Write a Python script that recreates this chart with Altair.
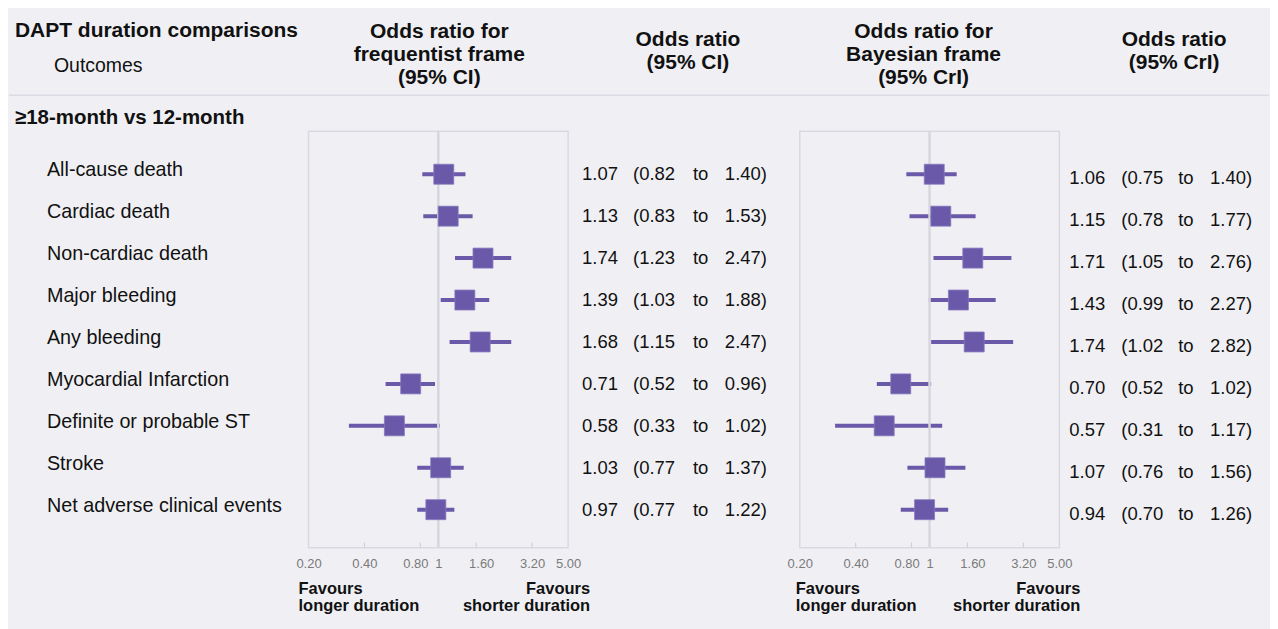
import altair as alt
import pandas as pd

# ---------------- data ----------------
outcomes = [
    "All-cause death", "Cardiac death", "Non-cardiac death", "Major bleeding",
    "Any bleeding", "Myocardial Infarction", "Definite or probable ST",
    "Stroke", "Net adverse clinical events",
]
freq_or = [1.07, 1.13, 1.74, 1.39, 1.68, 0.71, 0.58, 1.03, 0.97]
freq_lo = [0.82, 0.83, 1.23, 1.03, 1.15, 0.52, 0.33, 0.77, 0.77]
freq_hi = [1.40, 1.53, 2.47, 1.88, 2.47, 0.96, 1.02, 1.37, 1.22]
bayes_or = [1.06, 1.15, 1.71, 1.43, 1.74, 0.70, 0.57, 1.07, 0.94]
bayes_lo = [0.75, 0.78, 1.05, 0.99, 1.02, 0.52, 0.31, 0.76, 0.70]
bayes_hi = [1.40, 1.77, 2.76, 2.27, 2.82, 1.02, 1.17, 1.56, 1.26]
tick_values = [0.2, 0.4, 0.8, 1, 1.6, 3.2, 5]
inner_ticks = [0.4, 0.8, 1.6, 3.2]

df = pd.DataFrame({
    "row": list(range(len(outcomes))),
    "outcome": outcomes,
    "f_or": freq_or, "f_lo": freq_lo, "f_hi": freq_hi,
    "b_or": bayes_or, "b_lo": bayes_lo, "b_hi": bayes_hi,
})
ticks_df = pd.DataFrame({"t": inner_ticks})
one = pd.DataFrame({"k": [0]})

# ---------------- style ----------------
FONT = "Liberation Sans"
PURPLE = "#6a58a8"
BG = "#f0f0f4"
FRAME = "#d9d9e1"
W, H = 1262, 540
PANEL_TOP = 123

ys = alt.Scale(domain=[-0.5, 8.5], range=[145, 523])
Y = alt.Y("row:Q", scale=ys, axis=None)


def xscale(rng):
    return alt.Scale(type="log", domain=[0.2, 5], range=rng)


def forest(pre, rng):
    xs = xscale(rng)
    axis = alt.Axis(
        values=tick_values, orient="bottom",
        labelExpr="datum.value == 1 ? '1' : format(datum.value, '.2f')",
        domain=False, ticks=False, grid=False,
        labelFont=FONT, labelFontSize=13, labelColor="#7a7a7a",
        labelPadding=10, labelOverlap=False, labelFlush=False,
        labelOffset={
            "condition": [
                {"test": "datum.value == 0.8", "value": -5},
                {"test": "datum.value == 1.6", "value": 5},
            ],
            "value": 0,
        },
    )
    frame = alt.Chart(one).mark_rect(
        fillOpacity=0, stroke=FRAME, strokeWidth=1.5
    ).encode(
        x=alt.XDatum(0.2, scale=xs, axis=None),
        x2=alt.X2Datum(5),
        y=alt.value(PANEL_TOP), y2=alt.value(H),
    )
    tks = alt.Chart(ticks_df).mark_rule(color="#cfcfd8", strokeWidth=1.2).encode(
        x=alt.X("t:Q", scale=xs, axis=None),
        y=alt.value(H - 5), y2=alt.value(H),
    )
    ci = alt.Chart(df).mark_rule(color=PURPLE, strokeWidth=4).encode(
        x=alt.X(f"{pre}_lo:Q", scale=xs, axis=axis, title=None),
        x2=f"{pre}_hi:Q",
        y=Y,
    )
    ref = alt.Chart(one).mark_rule(color="#d6d6de", strokeWidth=2.5).encode(
        x=alt.XDatum(1, scale=xs, axis=None),
        y=alt.value(PANEL_TOP), y2=alt.value(H),
    )
    sq = alt.Chart(df).mark_square(
        size=400, color=PURPLE, opacity=1, stroke="#8678bf", strokeWidth=0.8
    ).encode(
        x=alt.X(f"{pre}_or:Q", scale=xs, axis=None),
        y=Y,
    )
    return [frame, tks, ci, ref, sq]


def values_cols(pre, xs4, dy):
    common = dict(align="left", baseline="middle", font=FONT, fontSize=18.5,
                  color="#111111", dy=dy)
    a = alt.Chart(df).mark_text(**common).encode(
        x=alt.value(xs4[0]), y=Y, text=alt.Text(f"{pre}_or:Q", format=".2f"))
    b = alt.Chart(df).transform_calculate(
        t=f"'(' + format(datum.{pre}_lo, '.2f')"
    ).mark_text(**common).encode(x=alt.value(xs4[1]), y=Y, text="t:N")
    c = alt.Chart(df).mark_text(**common).encode(
        x=alt.value(xs4[2]), y=Y, text=alt.value("to"))
    d = alt.Chart(df).transform_calculate(
        t=f"format(datum.{pre}_hi, '.2f') + ')'"
    ).mark_text(**common).encode(x=alt.value(xs4[3]), y=Y, text="t:N")
    return [a, b, c, d]


def label(text, x, y, size=21, weight="bold", align="left", lh=23, color="#111111"):
    return alt.Chart(one).mark_text(
        align=align, baseline="middle", font=FONT, fontSize=size,
        fontWeight=weight, lineHeight=lh, color=color,
    ).encode(x=alt.value(x), y=alt.value(y), text=alt.value(text))


outcome_labels = alt.Chart(df).mark_text(
    align="left", baseline="middle", font=FONT, fontSize=19.8, color="#111111", dy=-4
).encode(x=alt.value(38), y=Y, text="outcome:N")

sep = alt.Chart(one).mark_rule(color="#dadae2", strokeWidth=1.5).encode(
    x=alt.value(0), x2=alt.value(W), y=alt.value(87))

layers = []
layers += forest("f", [300, 560])
layers += forest("b", [792, 1052])
layers += values_cols("f", [574, 625, 685, 717], 0)
layers += values_cols("b", [1062, 1114, 1171, 1203], 4)
layers += [
    outcome_labels, sep,
    label("DAPT duration comparisons", 6, 23, size=21),
    label("Outcomes", 45, 58, size=19.5, weight="normal"),
    label("≥18-month vs 12-month", 6, 110, size=20.5),
    label(["Odds ratio for", "frequentist frame", "(95% CI)"], 431, 24, align="center"),
    label(["Odds ratio", "(95% CI)"], 680, 32, align="center"),
    label(["Odds ratio for", "Bayesian frame", "(95% CrI)"], 916, 24, align="center"),
    label(["Odds ratio", "(95% CrI)"], 1167, 32, align="center"),
    label(["Favours", "longer duration"], 290, 581, size=16.5, lh=17, weight=900),
    label(["Favours", "shorter duration"], 582, 581, size=16.5, lh=17, weight=900, align="right"),
    label(["Favours", "longer duration"], 788, 581, size=16.5, lh=17, weight=900),
    label(["Favours", "shorter duration"], 1073, 581, size=16.5, lh=17, weight=900, align="right"),
]

chart = alt.layer(*layers).resolve_scale(x="independent").properties(
    width=W, height=H, background=BG,
    padding={"left": 0, "top": 0, "right": 0, "bottom": 16},
).configure_view(stroke=None)

chart.save("out.html", embed_options={"renderer": "svg", "actions": False})
